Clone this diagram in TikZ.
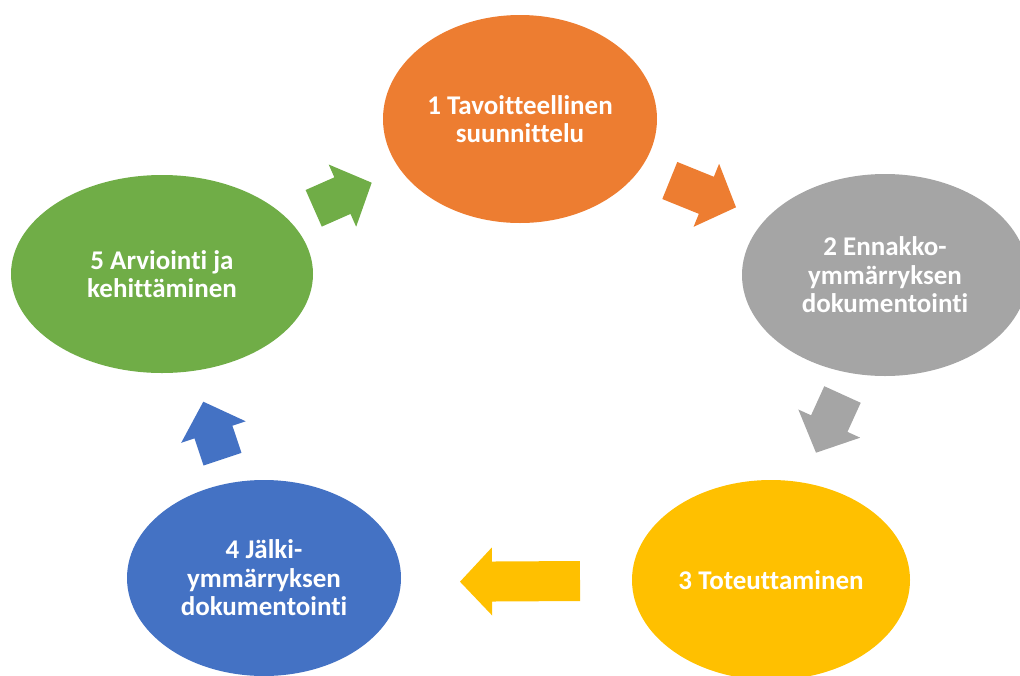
\documentclass[tikz,border=0pt]{standalone}
\usepackage{fontspec}
\setmainfont[Ligatures=NoCommon]{Carlito}
\usetikzlibrary{shapes.geometric,calc}

\definecolor{orng}{HTML}{ED7D31}
\definecolor{gry}{HTML}{A5A5A5}
\definecolor{yllw}{HTML}{FFC000}
\definecolor{blu}{HTML}{4472C4}
\definecolor{grn}{HTML}{70AD47}

% block arrow from tail (#1) to tip (#2)
\newcommand{\blockarrow}[3]{%
  \coordinate (hb) at ($(#2)!32pt!(#1)$);
  \fill[#3] ($(#1)!20pt!90:(#2)$) -- ($(hb)!20pt!90:(#2)$) -- ($(hb)!34pt!90:(#2)$)
    -- (#2) -- ($(hb)!34pt!-90:(#2)$) -- ($(hb)!20pt!-90:(#2)$)
    -- ($(#1)!20pt!-90:(#2)$) -- cycle;}

\begin{document}
\begin{tikzpicture}[x=1pt,y=-1pt,
   phase/.style={ellipse,inner sep=0pt,text=white,align=center,
     font=\fontsize{27}{28.5}\selectfont\bfseries}]

\useasboundingbox (0,0) rectangle (1020,675);

\node[phase,fill=orng,minimum width=274pt,minimum height=208pt] (tav) at (520,119)
  {1 Tavoitteellinen\\suunnittelu};
\node[phase,fill=gry,minimum width=286pt,minimum height=202pt] (enn) at (885,275)
  {2 Ennakko-\\ymmärryksen\\dokumentointi};
\node[phase,fill=yllw,minimum width=278pt,minimum height=200pt] (tot) at (771,580)
  {3 Toteuttaminen};
\node[phase,fill=blu,minimum width=274pt,minimum height=196pt] (jal) at (264,578)
  {4 Jälki-\\ymmärryksen\\dokumentointi};
\node[phase,fill=grn,minimum width=302pt,minimum height=198pt] (arv) at (162,274)
  {5 Arviointi ja\\kehittäminen};

%arrow ends
\coordinate (g1) at (313.7,208.3);
\coordinate (g2) at (371.7,182.7);
\coordinate (o1) at (669.8,180.5);
\coordinate (o2) at (736,207.3);
\coordinate (r1) at (842.5,394.5);
\coordinate (r2) at (816,452.7);
\coordinate (y1) at (580,581);
\coordinate (y2) at (460,581.7);
\coordinate (b1) at (222.5,459.2);
\coordinate (b2) at (203.3,401.7);

\blockarrow{g1}{g2}{grn}
\blockarrow{o1}{o2}{orng}
\blockarrow{r1}{r2}{gry}
\blockarrow{y1}{y2}{yllw}
\blockarrow{b1}{b2}{blu}

\end{tikzpicture}
\end{document}
